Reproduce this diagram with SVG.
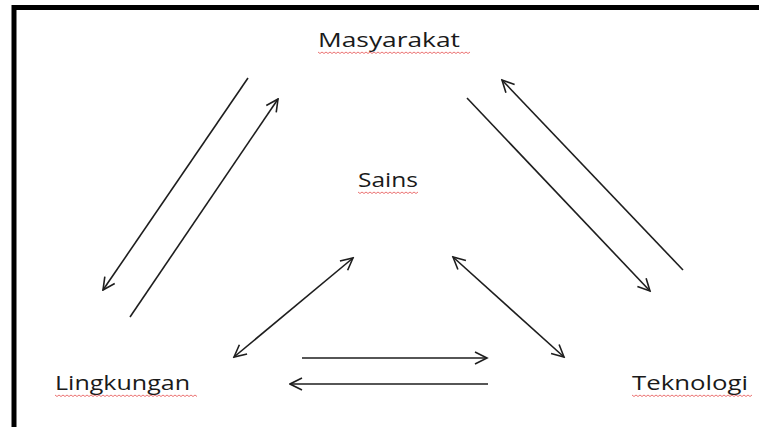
<svg xmlns="http://www.w3.org/2000/svg" width="759" height="427" viewBox="0 0 759 427">
  <defs>
    <style>
      .lbl { font-family: "Open Sans", "Noto Sans", "Liberation Sans", sans-serif; font-size: 20px; fill: #1a1a1a; }
      .conn { stroke: #1e1e1e; stroke-width: 1.6; fill: none; }
      .squig { stroke: #e23b3b; stroke-width: 0.9; fill: none; opacity: 0.8; }
      .frame { stroke: #000; stroke-width: 5; fill: none; }
    </style>
    <marker id="arr" viewBox="0 0 15 15" refX="13.5" refY="7.5" markerWidth="15" markerHeight="15" markerUnits="userSpaceOnUse" orient="auto-start-reverse">
      <path d="M1.5,1.5 L13.5,7.5 L1.5,13.5" stroke="#1e1e1e" stroke-width="1.6" fill="none" stroke-linejoin="miter"/>
    </marker>
  </defs>
  <rect width="759" height="427" fill="#fff"/>
  <path class="frame" d="M14,427 L14,7.5 L759,7.5"/>

  <g id="masyarakat">
    <text class="lbl" x="318" y="47" textLength="142" lengthAdjust="spacingAndGlyphs">Masyarakat</text>
    <path class="squig" d="M318,52 l2,1.5 l2,-1.5 l2,1.5 l2,-1.5 l2,1.5 l2,-1.5 l2,1.5 l2,-1.5 l2,1.5 l2,-1.5 l2,1.5 l2,-1.5 l2,1.5 l2,-1.5 l2,1.5 l2,-1.5 l2,1.5 l2,-1.5 l2,1.5 l2,-1.5 l2,1.5 l2,-1.5 l2,1.5 l2,-1.5 l2,1.5 l2,-1.5 l2,1.5 l2,-1.5 l2,1.5 l2,-1.5 l2,1.5 l2,-1.5 l2,1.5 l2,-1.5 l2,1.5 l2,-1.5 l2,1.5 l2,-1.5 l2,1.5 l2,-1.5 l2,1.5 l2,-1.5 l2,1.5 l2,-1.5 l2,1.5 l2,-1.5 l2,1.5 l2,-1.5 l2,1.5 l2,-1.5 l2,1.5 l2,-1.5 l2,1.5 l2,-1.5 l2,1.5 l2,-1.5 l2,1.5 l2,-1.5 l2,1.5 l2,-1.5 l2,1.5 l2,-1.5 l2,1.5 l2,-1.5 l2,1.5 l2,-1.5 l2,1.5 l2,-1.5 l2,1.5 l2,-1.5 l2,1.5 l2,-1.5 l2,1.5 l2,-1.5 l2,1.5 l2,-1.5"/>
  </g>

  <g id="sains">
    <text class="lbl" x="358" y="187" textLength="60" lengthAdjust="spacingAndGlyphs">Sains</text>
    <path class="squig" d="M358,192 l2,1.5 l2,-1.5 l2,1.5 l2,-1.5 l2,1.5 l2,-1.5 l2,1.5 l2,-1.5 l2,1.5 l2,-1.5 l2,1.5 l2,-1.5 l2,1.5 l2,-1.5 l2,1.5 l2,-1.5 l2,1.5 l2,-1.5 l2,1.5 l2,-1.5 l2,1.5 l2,-1.5 l2,1.5 l2,-1.5 l2,1.5 l2,-1.5 l2,1.5 l2,-1.5 l2,1.5 l2,-1.5"/>
  </g>

  <g id="lingkungan">
    <text class="lbl" x="55" y="390" textLength="135" lengthAdjust="spacingAndGlyphs">Lingkungan</text>
    <path class="squig" d="M55,395 l2,1.5 l2,-1.5 l2,1.5 l2,-1.5 l2,1.5 l2,-1.5 l2,1.5 l2,-1.5 l2,1.5 l2,-1.5 l2,1.5 l2,-1.5 l2,1.5 l2,-1.5 l2,1.5 l2,-1.5 l2,1.5 l2,-1.5 l2,1.5 l2,-1.5 l2,1.5 l2,-1.5 l2,1.5 l2,-1.5 l2,1.5 l2,-1.5 l2,1.5 l2,-1.5 l2,1.5 l2,-1.5 l2,1.5 l2,-1.5 l2,1.5 l2,-1.5 l2,1.5 l2,-1.5 l2,1.5 l2,-1.5 l2,1.5 l2,-1.5 l2,1.5 l2,-1.5 l2,1.5 l2,-1.5 l2,1.5 l2,-1.5 l2,1.5 l2,-1.5 l2,1.5 l2,-1.5 l2,1.5 l2,-1.5 l2,1.5 l2,-1.5 l2,1.5 l2,-1.5 l2,1.5 l2,-1.5 l2,1.5 l2,-1.5 l2,1.5 l2,-1.5 l2,1.5 l2,-1.5 l2,1.5 l2,-1.5 l2,1.5 l2,-1.5 l2,1.5 l2,-1.5 l2,1.5"/>
  </g>

  <g id="teknologi">
    <text class="lbl" x="632" y="390" textLength="116" lengthAdjust="spacingAndGlyphs">Teknologi</text>
    <path class="squig" d="M632,395 l2,1.5 l2,-1.5 l2,1.5 l2,-1.5 l2,1.5 l2,-1.5 l2,1.5 l2,-1.5 l2,1.5 l2,-1.5 l2,1.5 l2,-1.5 l2,1.5 l2,-1.5 l2,1.5 l2,-1.5 l2,1.5 l2,-1.5 l2,1.5 l2,-1.5 l2,1.5 l2,-1.5 l2,1.5 l2,-1.5 l2,1.5 l2,-1.5 l2,1.5 l2,-1.5 l2,1.5 l2,-1.5 l2,1.5 l2,-1.5 l2,1.5 l2,-1.5 l2,1.5 l2,-1.5 l2,1.5 l2,-1.5 l2,1.5 l2,-1.5 l2,1.5 l2,-1.5 l2,1.5 l2,-1.5 l2,1.5 l2,-1.5 l2,1.5 l2,-1.5 l2,1.5 l2,-1.5 l2,1.5 l2,-1.5 l2,1.5 l2,-1.5 l2,1.5 l2,-1.5 l2,1.5 l2,-1.5 l2,1.5 l2,-1.5"/>
  </g>

  <g id="connectors">
    <line class="conn" x1="248" y1="78" x2="103" y2="290" marker-end="url(#arr)"/>
    <line class="conn" x1="130" y1="317" x2="278" y2="99" marker-end="url(#arr)"/>
    <line class="conn" x1="683" y1="270" x2="502" y2="80" marker-end="url(#arr)"/>
    <line class="conn" x1="467" y1="98" x2="650" y2="291" marker-end="url(#arr)"/>
    <line class="conn" x1="234" y1="357" x2="353" y2="258" marker-start="url(#arr)" marker-end="url(#arr)"/>
    <line class="conn" x1="453" y1="257" x2="564" y2="357" marker-start="url(#arr)" marker-end="url(#arr)"/>
    <line class="conn" x1="302" y1="358" x2="487" y2="358" marker-end="url(#arr)"/>
    <line class="conn" x1="488" y1="384" x2="290" y2="384" marker-end="url(#arr)"/>
  </g>
</svg>
